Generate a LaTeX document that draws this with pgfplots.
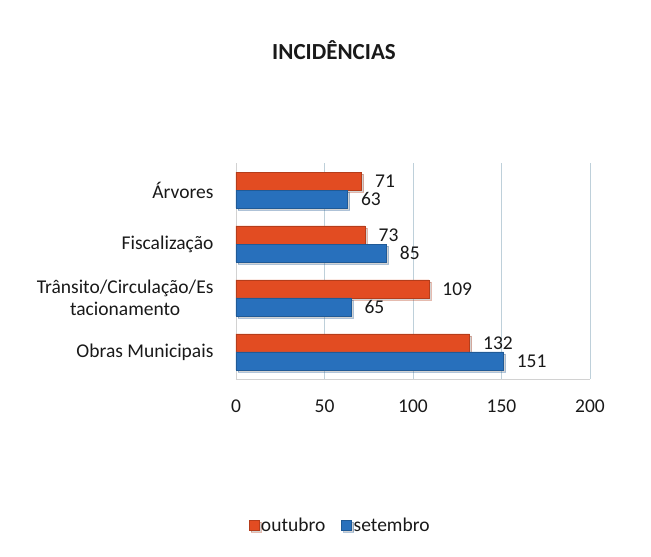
\documentclass[border=0pt]{standalone}
\usepackage{pgfplots}
\pgfplotsset{compat=1.18}
\usetikzlibrary{shadows}
\usepackage{fontspec}
\setmainfont{Carlito}
\definecolor{outc}{RGB}{226,76,34}
\definecolor{setc}{RGB}{40,112,188}
\definecolor{gridc}{RGB}{190,208,218}
\definecolor{txt}{RGB}{25,25,25}
\begin{document}
\begin{tikzpicture}[x=1pt,y=1pt]
\path[use as bounding box] (0,0) rectangle (651,557);
\node[font=\fontsize{23}{26}\selectfont\bfseries, text=txt] at (334,507) {INCIDÊNCIAS};
\begin{axis}[
  at={(236pt,178pt)}, anchor=south west,
  scale only axis, width=354pt, height=216pt,
  xmin=0, xmax=200, ymin=-0.5, ymax=3.5,
  xtick={0,50,100,150,200},
  ytick={0,1,2,3},
  yticklabels={Obras Municipais,{Trânsito/Circulação/Es\\tacionamento},Fiscalização,Árvores},
  yticklabel style={align=center, xshift=-19pt},
  xticklabel style={yshift=-17pt},
  tick label style={font=\fontsize{19.5}{22}\selectfont, text=txt},
  /pgf/number format/assume math mode=true,
  major tick length=0pt,
  xmajorgrids, grid style={gridc, line width=0.8pt},
  axis x line*=bottom, axis y line*=left,
  axis line style={gray!35},
  xbar, bar width=18pt,
  nodes near coords,
  nodes near coords style={font=\fontsize{19.5}{22}\selectfont, text=txt, anchor=west, xshift=10pt},
  legend columns=2,
  legend style={draw=none, fill=none, at={(axis description cs:0.294,-0.676)}, anchor=center,
    font=\fontsize{19.5}{22}\selectfont, text=txt, /tikz/every even column/.append style={column sep=14pt}},
  legend image code/.code={\fill[#1] (2pt,-5pt) rectangle (12pt,5pt);},
]
\addplot[fill=outc, draw=outc!80!black, bar shift=9pt,
  drop shadow={opacity=0.35, shadow xshift=2pt, shadow yshift=-2pt}] coordinates {(132,0) (109,1) (73,2) (71,3)};
\addlegendentry{outubro}
\addplot[fill=setc, draw=setc!80!black, bar shift=-9pt,
  drop shadow={opacity=0.35, shadow xshift=2pt, shadow yshift=-2pt}] coordinates {(151,0) (65,1) (85,2) (63,3)};
\addlegendentry{setembro}
\end{axis}
\end{tikzpicture}
\end{document}
